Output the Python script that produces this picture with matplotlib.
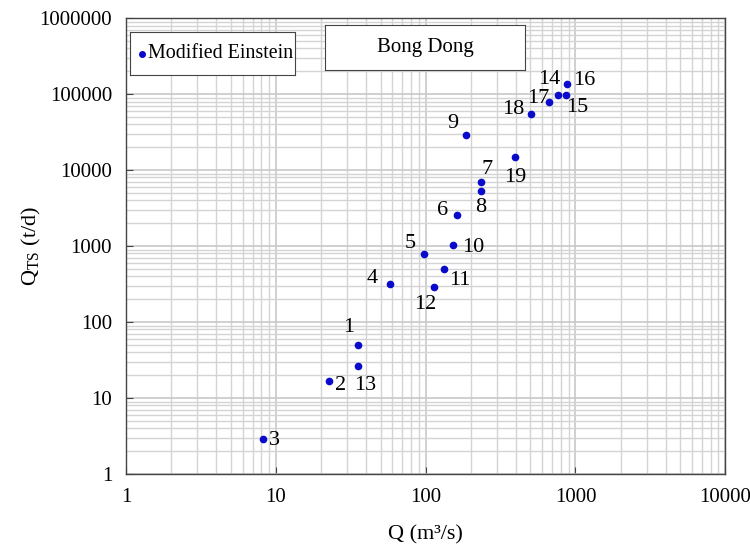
import numpy as np
import matplotlib
matplotlib.use("Agg")
import matplotlib.pyplot as plt
from matplotlib.ticker import LogLocator, FixedLocator, NullFormatter

plt.rcParams['font.family'] = ['Liberation Serif', 'DejaVu Serif']

# data
point_ids = [1, 2, 3, 4, 5, 6, 7, 8, 9, 10, 11, 12, 13, 14, 15, 16, 17, 18, 19]
q = [35.5, 22.5, 8.2, 57.6, 98, 163, 233, 233, 186, 153, 133, 114, 35.5,
     769, 865, 875, 667, 505, 395]
qts = [50, 16.6, 2.86, 316, 792, 2535, 7020, 5340, 29100, 1031, 498, 291, 26.4,
       98000, 98000, 134000, 78500, 54100, 14830]

x_ticks = [1, 10, 100, 1000, 10000]
y_ticks = [1, 10, 100, 1000, 10000, 100000, 1000000]

# label offsets (pixels: dx right, dy up) and horizontal alignment
label_pos = {
    1: (-10, 17, 'center'), 2: (6, -4, 'left'), 3: (6, -1, 'left'),
    4: (-18, 6, 'center'), 5: (-14, 10, 'center'), 6: (-15, 5, 'center'),
    7: (6, 12, 'center'), 8: (0, -17, 'center'), 9: (-13, 11, 'center'),
    10: (9, -2, 'left'), 11: (5, -11, 'left'), 12: (-9, -18, 'center'),
    13: (7, -19, 'center'), 14: (-9, 15, 'center'), 15: (11, -13, 'center'),
    16: (6, 4, 'left'), 17: (-11, 4, 'center'), 18: (-18, 5, 'center'),
    19: (0, -20, 'center'),
}

fig = plt.figure(figsize=(7.5, 5.5), dpi=100)
ax = fig.add_axes([0.168, 0.138, 0.799, 0.829])
ax.set_xscale('log')
ax.set_yscale('log')
ax.set_xlim(1, 10000)
ax.set_ylim(1, 1000000)

ax.xaxis.set_major_locator(FixedLocator(x_ticks))
ax.yaxis.set_major_locator(FixedLocator(y_ticks))
ax.set_xticklabels([str(v) for v in x_ticks])
ax.set_yticklabels([str(v) for v in y_ticks])
ax.xaxis.set_minor_locator(LogLocator(base=10, subs=np.arange(2, 10), numticks=20))
ax.yaxis.set_minor_locator(LogLocator(base=10, subs=np.arange(2, 10), numticks=20))
ax.xaxis.set_minor_formatter(NullFormatter())
ax.yaxis.set_minor_formatter(NullFormatter())

ax.grid(True, which='major', color='#c8c8c8', lw=1.2)
ax.grid(True, which='minor', color='#d4d4d4', lw=1.0)
ax.set_axisbelow(True)
ax.tick_params(which='major', direction='in', length=5, color='#444444',
               labelsize=15, pad=10)
ax.tick_params(which='minor', length=0)
for s in ax.spines.values():
    s.set_color('#444444')
    s.set_linewidth(1.0)

ax.plot(q, qts, 'o', color='#0a0acc', ms=4.5, ls='none')

for pid, xv, yv in zip(point_ids, q, qts):
    dx, dy, ha = label_pos[pid]
    ax.annotate(str(pid), (xv, yv), xytext=(dx * 0.72, dy * 0.72),
                textcoords='offset points', ha=ha, va='center', fontsize=16)

ax.set_xlabel('Q (m³/s)', fontsize=16, va='center')
ax.set_ylabel('Q$_{\\mathregular{TS}}$ (t/d)', fontsize=16, va='center')
ax.xaxis.set_label_coords(0.5, -0.134)
ax.yaxis.set_label_coords(-0.158, 0.5)

# legend box
leg_ax = fig.add_axes([130 / 750, 1 - 75 / 550, 165 / 750, 43 / 550])
leg_ax.set_xticks([])
leg_ax.set_yticks([])
leg_ax.set_xlim(0, 1)
leg_ax.set_ylim(0, 1)
for s in leg_ax.spines.values():
    s.set_color('#444444')
leg_ax.plot([0.075], [0.5], 'o', color='#0a0acc', ms=4)
leg_ax.text(0.11, 0.5, 'Modified Einstein', va='center', ha='left', fontsize=14.4)

# title box
tit_ax = fig.add_axes([325 / 750, 1 - 70 / 550, 200 / 750, 45 / 550])
tit_ax.set_xticks([])
tit_ax.set_yticks([])
for s in tit_ax.spines.values():
    s.set_color('#444444')
tit_ax.text(0.5, 0.5, 'Bong Dong', va='center', ha='center', fontsize=15,
            transform=tit_ax.transAxes)

fig.savefig('out.png', dpi=100)
